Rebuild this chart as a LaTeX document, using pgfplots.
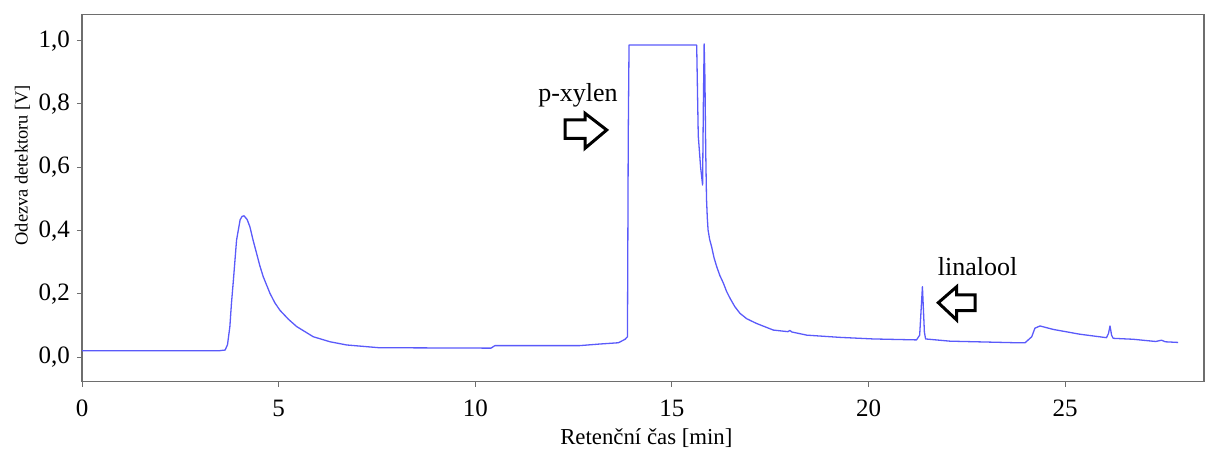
\documentclass[border=0pt]{standalone}
\usepackage{pgfplots}
\pgfplotsset{compat=1.18}
\usepackage{fontspec}
\setmainfont{Liberation Serif}
\definecolor{curve}{RGB}{90,90,250}
\definecolor{axgray}{RGB}{110,110,110}
\begin{document}
\begin{tikzpicture}
\path[use as bounding box] (0pt,0pt) rectangle (602.5pt,227.5pt);
\begin{axis}[
  at={(41pt,36.65pt)}, anchor=south west,
  width=561pt, height=183.5pt, scale only axis,
  xmin=0, xmax=28.53, ymin=-0.077, ymax=1.082,
  xtick={0,5,10,15,20,25},
  ytick={0,0.2,0.4,0.6,0.8,1.0},
  yticklabels={{0,0},{0,2},{0,4},{0,6},{0,8},{1,0}},
  /pgf/number format/assume math mode=true,
  tick align=outside, major tick length=2.5pt,
  xtick pos=bottom, ytick pos=left,
  tick style={axgray, line width=0.5pt},
  axis line style={axgray, line width=0.8pt},
  ticklabel style={font=\fontsize{12.5}{14}\selectfont, text=black},
  xticklabel style={yshift=-3pt},
  xlabel={Retenční čas [min]},
  ylabel={Odezva detektoru [V]},
  xlabel style={font=\fontsize{11.4}{13}\selectfont, at={(axis description cs:0.503,-0.153)}, anchor=center},
  ylabel style={font=\fontsize{9.2}{11}\selectfont, at={(axis description cs:-0.053,0.59)}, anchor=center},
  clip=true,
]
\addplot[color=curve, line width=0.65pt, line join=round] coordinates {
(0,0.021) (3.5,0.021) (3.64,0.023) (3.70,0.04) (3.76,0.097) (3.80,0.17) (3.85,0.244) (3.93,0.37) (4.02,0.434) (4.07,0.445) (4.12,0.447) (4.20,0.435) (4.27,0.412) (4.35,0.37) (4.44,0.328) (4.52,0.29) (4.61,0.254) (4.78,0.202) (4.90,0.173) (5.03,0.149) (5.25,0.12) (5.46,0.097) (5.88,0.065) (6.31,0.049) (6.73,0.039) (7.58,0.030) (8.2,0.030) (10.4,0.029) (10.5,0.037) (11.5,0.037) (12.66,0.037) (13.17,0.042) (13.64,0.046) (13.81,0.057) (13.87,0.065) (13.89,0.70) (13.91,0.986) (15.63,0.986) (15.67,0.70) (15.73,0.60) (15.78,0.544) (15.80,0.80) (15.82,0.99) (15.84,0.88) (15.86,0.65) (15.88,0.50) (15.90,0.44) (15.92,0.402) (15.96,0.372) (16.01,0.349) (16.07,0.315) (16.14,0.286) (16.22,0.258) (16.31,0.234) (16.39,0.208) (16.48,0.186) (16.60,0.16) (16.73,0.139) (16.90,0.122) (17.15,0.107) (17.58,0.086) (17.95,0.081) (18.0,0.085) (18.05,0.080) (18.43,0.070) (19.27,0.063) (20.12,0.058) (21.22,0.055) (21.30,0.07) (21.37,0.223) (21.42,0.08) (21.45,0.058) (22.07,0.051) (23.76,0.046) (23.98,0.046) (24.15,0.065) (24.23,0.092) (24.36,0.099) (24.70,0.088) (25.37,0.073) (26.05,0.062) (26.10,0.075) (26.14,0.099) (26.18,0.07) (26.22,0.06) (26.73,0.057) (27.3,0.050) (27.45,0.054) (27.55,0.049) (27.87,0.047)
};
\end{axis}
\begin{scope}[x=0.5pt,y=0.5pt]
\node[anchor=base, font=\fontsize{13}{15}\selectfont] at (578,353.3) {p-xylen};
\node[anchor=base, font=\fontsize{13}{15}\selectfont] at (977.5,179) {linalool};
\draw[black, line width=1.5pt, line join=miter]
  (565,335) -- (585,335) -- (585,341.7) -- (606.7,325) -- (585,306.7) -- (585,316.7) -- (565,316.7) -- cycle;
\draw[black, line width=1.5pt, line join=miter]
  (975,160) -- (956.7,160) -- (956.7,168.3) -- (938.3,152.3) -- (956.7,135) -- (956.7,144.3) -- (975,144.3) -- cycle;
\end{scope}
\end{tikzpicture}
\end{document}
